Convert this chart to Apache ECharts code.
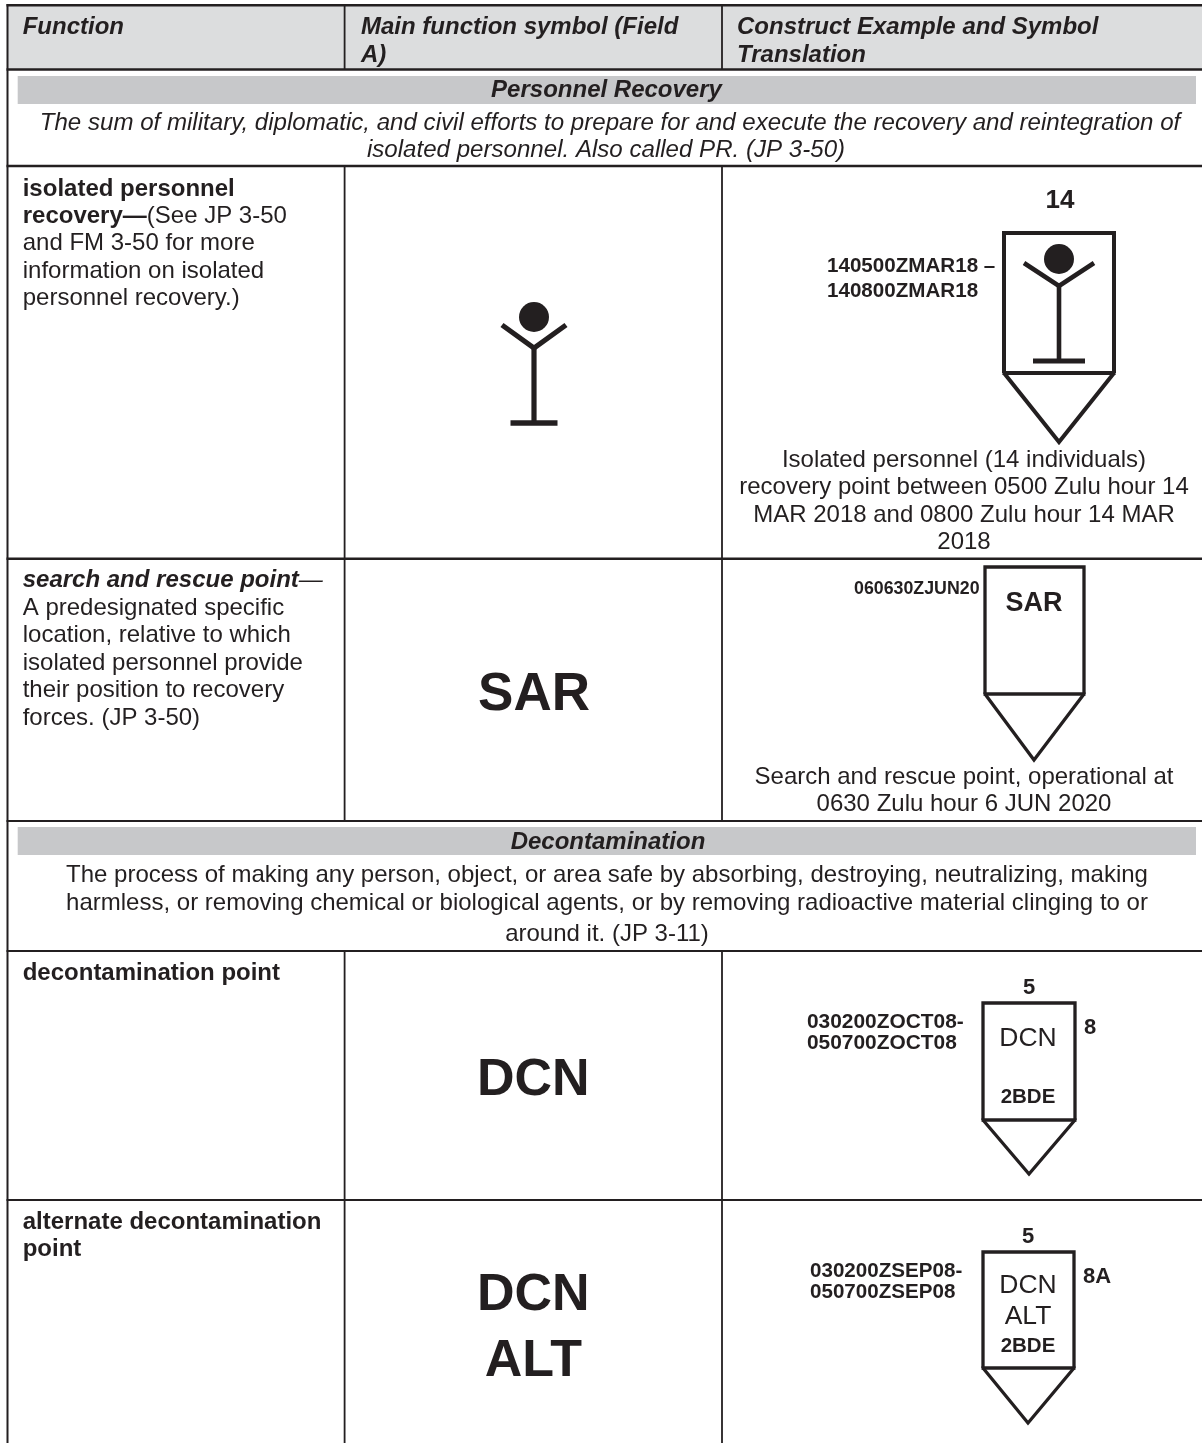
<!DOCTYPE html>
<html><head><meta charset="utf-8">
<style>html,body{margin:0;padding:0;background:#fff}#c{width:1202px;height:1443px}</style>
<script src="https://cdn.jsdelivr.net/npm/echarts@6/dist/echarts.min.js"></script>
</head><body><div id="c"></div>
<script>
// ---- content ----
var headerLabels = [['Function'], ['Main function symbol (Field', 'A)'], ['Construct Example and Symbol', 'Translation']];
var sectionTitles = ['Personnel Recovery', 'Decontamination'];
var prDefinition = ['The sum of military, diplomatic, and civil efforts to prepare for and execute the recovery and reintegration of', 'isolated personnel. Also called PR. (JP 3-50)'];
var dcnDefinition = ['The process of making any person, object, or area safe by absorbing, destroying, neutralizing, making', 'harmless, or removing chemical or biological agents, or by removing radioactive material clinging to or', 'around it. (JP 3-11)'];
var isolatedFunction = ['{b|isolated personnel}', '{b|recovery\u2014}(See JP 3-50', 'and FM 3-50 for more', 'information on isolated', 'personnel recovery.)'];
var sarFunction = ['{bi|search and rescue point}{i|\u2014}', 'A predesignated specific', 'location, relative to which', 'isolated personnel provide', 'their position to recovery', 'forces. (JP 3-50)'];
var dcnFunction = ['{b|decontamination point}'];
var altFunction = ['{b|alternate decontamination}', '{b|point}'];
var isolatedCaption = ['Isolated personnel (14 individuals)', 'recovery point between 0500 Zulu hour 14', 'MAR 2018 and 0800 Zulu hour 14 MAR', '2018'];
var sarCaption = ['Search and rescue point, operational at', '0630 Zulu hour 6 JUN 2020'];
var isolatedDates = ['140500ZMAR18 \u2013', '140800ZMAR18'];
var sarDates = ['060630ZJUN20'];
var dcnDates = ['030200ZOCT08-', '050700ZOCT08'];
var altDates = ['030200ZSEP08-', '050700ZSEP08'];
var symbolTexts = {sar:'SAR', dcn:'DCN', alt:'ALT', unit:'2BDE', qty14:'14', qty5:'5', h8:'8', h8a:'8A'};

// ---- drawing list (page-space units, mapped through hidden axes) ----
var items = [];
var INK = '#231f20';
function rect(x,y,w,h,fill){items.push({k:'rect',x:x,y:y,w:w,h:h,fill:fill});}
function path(pts,lw,cap){items.push({k:'poly',pts:pts,lw:lw,cap:cap||'butt'});}
function circle(x,y,r){items.push({k:'circle',x:x,y:y,r:r});}
function text(s,x,base,size,o){o=o||{};items.push({k:'text',s:s,x:x,base:base,size:size,bold:o.bold,italic:o.italic,align:o.align||'left'});}
function lines(arr,x,base0,step,size,o){arr.forEach(function(s,i){text(s,x,base0+i*step,size,o);});}

function person(cx,headY,r,armX,armY,neckY,footY,footHalf,lw,footLw){
  circle(cx,headY,r);
  path([[cx-armX,armY],[cx,neckY],[cx+armX,armY]],lw);
  path([[cx,neckY],[cx,footY]],lw);
  path([[cx-footHalf,footY],[cx+footHalf,footY]],footLw);
}
function marker(l,r,t,b,tipX,tipY,lw){
  path([[l,b],[l,t],[r,t],[r,b]],lw);
  path([[l-1.5,b],[r+1.5,b]],lw);
  path([[l,b],[tipX,tipY],[r,b]],lw);
}

// backgrounds
rect(7.5,6,1194.5,63,'#dcddde');
rect(17.7,76,1178.3,28,'#c7c8ca');
rect(17.7,827,1178.3,28,'#c7c8ca');
// rules
var V = 1.8;
path([[7.5,4],[7.5,1443]],2);
[[5,69],[166,821],[951,1443]].forEach(function(s){
  path([[344.6,s[0]],[344.6,s[1]]],V);
  path([[722,s[0]],[722,s[1]]],V);
});
path([[6.5,5.3],[1202,5.3]],2.6);
path([[6.5,69.5],[1202,69.5]],2.6);
path([[6.5,166],[1202,166]],2.6);
path([[6.5,558.8],[1202,558.8]],2.6);
path([[6.5,821],[1202,821]],2.2);
path([[6.5,951],[1202,951]],2);
path([[6.5,1200],[1202,1200]],2);

// header
var BODY = 24;
lines(headerLabels[0],22.7,34,28.4,BODY,{bold:true,italic:true});
lines(headerLabels[1],361,34,28.4,BODY,{bold:true,italic:true});
lines(headerLabels[2],737,34,28.4,BODY,{bold:true,italic:true});
// sections
text(sectionTitles[0],606.5,97.5,BODY,{bold:true,italic:true,align:'center'});
text(prDefinition[0],610,130.7,24.1,{italic:true,align:'center'});
text(prDefinition[1],606,157.7,24.1,{italic:true,align:'center'});
text(sectionTitles[1],608,849.5,BODY,{bold:true,italic:true,align:'center'});
text(dcnDefinition[0],607,882,BODY,{align:'center'});
text(dcnDefinition[1],607,910,BODY,{align:'center'});
text(dcnDefinition[2],607,941,BODY,{align:'center'});
// function column
lines(isolatedFunction,22.7,196,27.4,BODY);
lines(sarFunction,22.7,587.4,27.6,BODY);
lines(dcnFunction,22.7,980,27.4,BODY);
lines(altFunction,22.7,1229,27.4,BODY);

// field A symbols
person(534,317,15,32,325,348,423,23.5,5.2,5.7);
text(symbolTexts.sar,534,711,53,{bold:true,align:'center'});
text(symbolTexts.dcn,533.3,1096,52,{bold:true,align:'center'});
text(symbolTexts.dcn,533.3,1310.7,52,{bold:true,align:'center'});
text(symbolTexts.alt,533.3,1377,52,{bold:true,align:'center'});

// construct: isolated personnel
marker(1004,1114,233,373,1059,442,4);
person(1059,259,15,35,263,286,361,26,4.6,5);
text(symbolTexts.qty14,1060,208,26,{bold:true,align:'center'});
lines(isolatedDates,827,272,25,20.6,{bold:true});
lines(isolatedCaption,964,467,27.5,BODY,{align:'center'});
// construct: SAR
marker(985,1084,567,694,1034,760,3.3);
text(symbolTexts.sar,1034,611,27,{bold:true,align:'center'});
text(sarDates[0],854,594,17.8,{bold:true});
lines(sarCaption,964,784,27.5,BODY,{align:'center'});
// construct: DCN
marker(983,1075,1003,1120,1029,1174,3.3);
text(symbolTexts.qty5,1029,994,22,{bold:true,align:'center'});
text(symbolTexts.h8,1090,1034,22,{bold:true,align:'center'});
text(symbolTexts.dcn,1028,1046,26.5,{align:'center'});
text(symbolTexts.unit,1028,1103,20.5,{bold:true,align:'center'});
lines(dcnDates,807,1028,21,20.9,{bold:true});
// construct: alternate DCN
marker(983,1074,1252,1368,1028,1423,3.3);
text(symbolTexts.qty5,1028,1243,22,{bold:true,align:'center'});
text(symbolTexts.h8a,1083,1283,22,{bold:true});
text(symbolTexts.dcn,1028,1293,26.5,{align:'center'});
text(symbolTexts.alt,1028,1324,26.5,{align:'center'});
text(symbolTexts.unit,1028,1352,20.5,{bold:true,align:'center'});
lines(altDates,810,1277,21,20.6,{bold:true});

function renderItem(params,api){
  var it = items[api.value(0)];
  function P(x,y){return api.coord([x,y]);}
  if(it.k==='rect'){
    var a=P(it.x,it.y),b=P(it.x+it.w,it.y+it.h);
    return {type:'rect',shape:{x:a[0],y:a[1],width:b[0]-a[0],height:b[1]-a[1]},style:{fill:it.fill}};
  }
  if(it.k==='poly'){
    return {type:'polyline',shape:{points:it.pts.map(function(p){return P(p[0],p[1]);})},
      style:{fill:null,stroke:INK,lineWidth:it.lw,lineCap:it.cap,lineJoin:'miter'}};
  }
  if(it.k==='circle'){
    var c=P(it.x,it.y);
    return {type:'circle',shape:{cx:c[0],cy:c[1],r:it.r},style:{fill:INK}};
  }
  var t=P(it.x,it.base-0.29*it.size);
  return {type:'text',x:t[0],y:t[1],style:{text:it.s,fontFamily:'Liberation Sans',fontSize:it.size,
    fontWeight:it.bold?'bold':'normal',fontStyle:it.italic?'italic':'normal',fill:INK,align:it.align,verticalAlign:'middle',
    rich:{b:{fontWeight:'bold',fontSize:it.size,fontFamily:'Liberation Sans',fill:INK},
          bi:{fontWeight:'bold',fontStyle:'italic',fontSize:it.size,fontFamily:'Liberation Sans',fill:INK},
          i:{fontStyle:'italic',fontSize:it.size,fontFamily:'Liberation Sans',fill:INK}}}};
}

var chart = echarts.init(document.getElementById('c'));
chart.setOption({
  animation:false, backgroundColor:'#fff',
  grid:{left:0,right:0,top:0,bottom:0},
  xAxis:{type:'value',min:0,max:1202,show:false},
  yAxis:{type:'value',min:0,max:1443,inverse:true,show:false},
  series:[{type:'custom',clip:false,silent:true,renderItem:renderItem,encode:{x:0,y:0},
    data:items.map(function(_,i){return [i];})}]
});
</script></body></html>
